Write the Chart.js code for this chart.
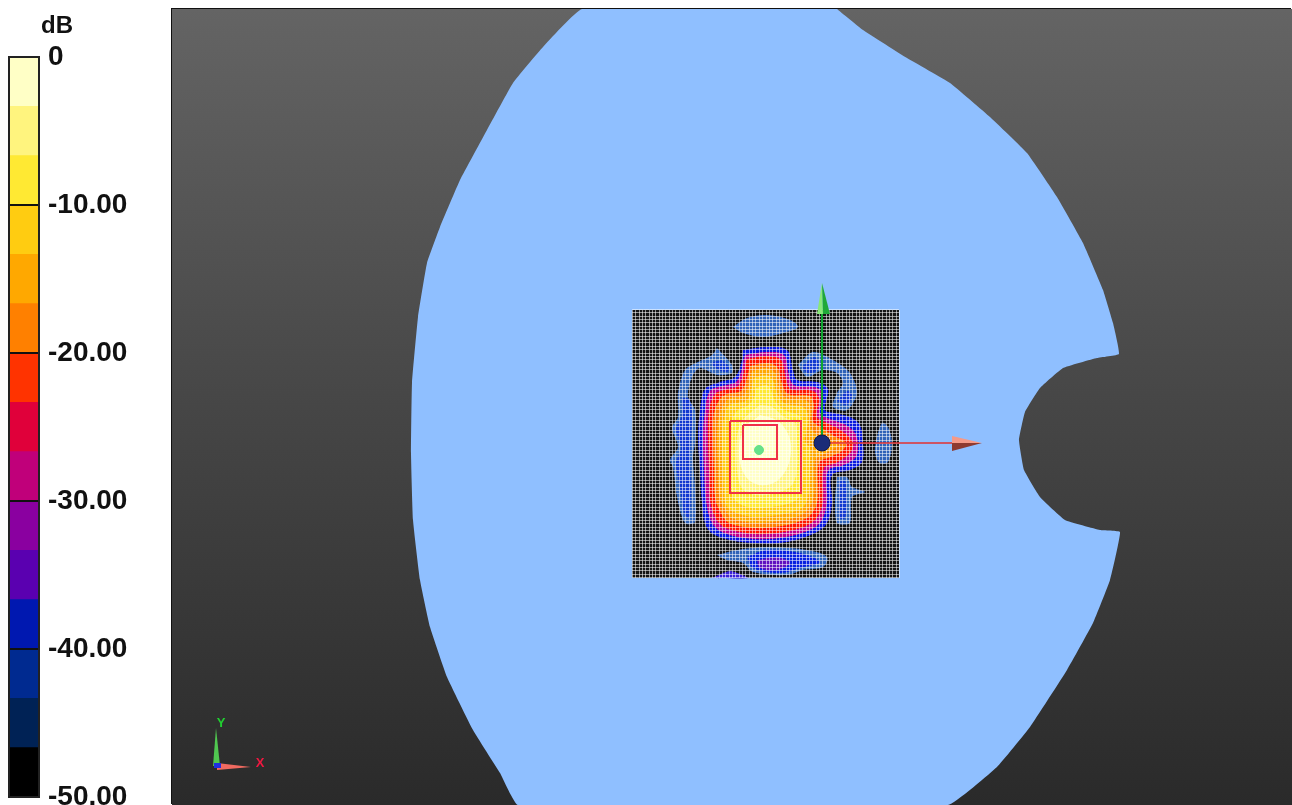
<!DOCTYPE html>
<html>
<head>
<meta charset="utf-8">
<title>Beam pattern</title>
<script src="https://cdn.jsdelivr.net/npm/chart.js@4"></script>
<style>
  html, body { margin: 0; background: #fff; overflow: hidden; }
  #wrap { position: relative; width: 1292px; height: 805px; overflow: hidden; }
  #barBox { position: absolute; left: 0; top: 0; width: 172px; height: 805px; }
  #plotBox { position: absolute; left: 172px; top: 9px; width: 1120px; height: 796px;
    background: linear-gradient(#646464, #464646 50%, #2a2a2a); box-shadow: -1px -1px 0 #111; }
  #unit { position: absolute; left: 41px; top: 11px; font: bold 24px "Liberation Sans", sans-serif; color: #111; }
</style>
</head>
<body>
<div id="wrap">
  <div id="barBox"><canvas id="bar" width="172" height="805"></canvas></div>
  <div id="unit">dB</div>
  <div id="plotBox"><canvas id="plot" width="1120" height="796"></canvas></div>
</div>
<script>
// colour bar
const bandLabels = ["0", "-3.3", "-6.7", "-10", "-13.3", "-16.7", "-20", "-23.3", "-26.7", "-30", "-33.3", "-36.7", "-40", "-43.3", "-46.7"];
const bandColors = ["#FFFFC6", "#FFF47E", "#FFE933", "#FFCC11", "#FFA800", "#FF8000", "#FF3300", "#E0003A", "#C0007A", "#8A00A0", "#5A00B0", "#0018B0", "#002A90", "#002255", "#000000"];
const bandValues = [1, 1, 1, 1, 1, 1, 1, 1, 1, 1, 1, 1, 1, 1, 1];
const dbTicks = [0, -10, -20, -30, -40, -50];

// model outline, one unit per screen pixel, origin at the blue ball
const modelOutline = [[15,434],[41,413],[85,385],[128,360],[168,326],[205,290],[235,246],[261,200],[281,153],[291,120],[297,89],[275,85],[241,75],[218,55],[203,31],[197,3],[202,-27],[218,-54],[243,-77],[278,-87],[298,-89],[288,-137],[271,-180],[245,-227],[208,-284],[175,-324],[126,-362],[-304,-362],[-322,-330],[-349,-287],[-375,-234],[-392,-184],[-402,-137],[-409,-77],[-411,-10],[-410,60],[-404,126],[-395,180],[-382,216],[-362,263],[-335,313],[-309,360],[-279,396],[-240,434]];
const meshCorners = [[-190,133],[77,133],[77,-135],[-190,-135]];

// side lobes
const lobeTop = [[-89,116],[-75,125],[-55,128],[-32,123],[-24,116],[-39,110],[-59,106],[-79,110]];
const lobeLeft = [[-105,95],[-90,78],[-90,70],[-105,68],[-122,75],[-130,66],[-134,46],[-127,33],[-127,0],[-129,-14],[-127,-44],[-127,-79],[-137,-80],[-145,-54],[-149,-24],[-152,-17],[-144,-4],[-150,15],[-144,26],[-144,50],[-137,73],[-124,81],[-110,88]];
const lobeLeftCoreA = [[-100,83],[-93,76],[-95,71],[-105,74],[-110,80]];
const lobeLeftCoreB = [[-140,45],[-133,44],[-130,30],[-131,5],[-132,-15],[-131,-45],[-133,-75],[-138,-70],[-142,-45],[-146,-20],[-141,-5],[-146,14],[-140,28]];
const lobeUpperRight = [[-24,78],[-9,91],[11,83],[28,70],[35,50],[25,33],[11,36],[15,50],[21,60],[15,70],[1,73],[-15,66]];
const lobeUpperRightCoreA = [[-20,76],[-8,86],[-3,80],[-6,72],[-15,70]];
const lobeUpperRightCoreB = [[15,42],[25,52],[30,48],[25,38]];
const lobeRight = [[54,3],[60,20],[66,16],[70,0],[66,-19],[58,-20],[53,-10]];
const lobeLowerRight = [[15,-34],[25,-34],[30,-44],[43,-49],[30,-54],[28,-80],[15,-80],[13,-57]];
const lobeLowerRightCore = [[17,-38],[23,-38],[25,-55],[23,-75],[18,-75],[17,-55]];
const lobeBottom = [[-105,-112],[-85,-107],[-55,-104],[-15,-107],[5,-114],[1,-124],[-19,-127],[-35,-132],[-69,-129],[-79,-120],[-95,-117]];
const lobeBottomCore = [[-75,-114],[-55,-107],[-22,-110],[-2,-119],[-22,-125],[-42,-130],[-69,-125]];
const lobeBottomPeak = [[-65,-117],[-45,-114],[-32,-120],[-45,-127],[-62,-125]];
const lobeEdge = [[-110,-135],[-92,-128],[-74,-135]];

// main beam contours, outermost first
const contourBlue = [[-79,93],[-55,96],[-35,93],[-29,73],[-25,63],[-5,61],[6,54],[3,33],[12,30],[28,26],[38,18],[41,0],[40,-19],[28,-27],[10,-32],[10,-60],[5,-80],[-7,-90],[-35,-99],[-69,-100],[-100,-95],[-115,-85],[-120,-60],[-122,-27],[-124,6],[-122,33],[-117,54],[-102,61],[-87,66],[-80,83]];
const contourMagenta = [[-77,88],[-55,91],[-38,88],[-33,68],[-28,58],[-7,56],[1,49],[-2,30],[8,24],[24,18],[33,10],[36,0],[34,-14],[22,-22],[6,-28],[5,-60],[0,-77],[-10,-86],[-36,-94],[-68,-96],[-98,-90],[-110,-80],[-116,-58],[-118,-27],[-119,6],[-117,33],[-112,52],[-100,57],[-85,62]];
const contourRed = [[-75,84],[-55,87],[-41,83],[-36,64],[-31,54],[-9,52],[-3,44],[-5,26],[5,20],[20,12],[31,0],[28,-10],[14,-20],[2,-25],[1,-58],[-4,-73],[-14,-82],[-38,-89],[-68,-91],[-96,-85],[-106,-76],[-112,-57],[-113,-27],[-114,6],[-113,33],[-107,49],[-98,53],[-83,58]];
const contourOrange = [[-72,77],[-55,80],[-45,76],[-40,60],[-34,49],[-12,47],[-8,38],[-9,22],[0,15],[12,7],[24,0],[20,-8],[8,-14],[-3,-20],[-4,-55],[-9,-69],[-19,-77],[-40,-83],[-68,-85],[-93,-80],[-101,-70],[-107,-55],[-108,-27],[-109,6],[-108,30],[-102,44],[-95,49],[-80,53]];
const contourAmber = [[-70,72],[-56,75],[-47,70],[-43,56],[-36,45],[-15,42],[-11,32],[-12,18],[-5,8],[6,3],[16,-2],[8,-8],[-2,-13],[-7,-17],[-8,-52],[-13,-65],[-23,-73],[-42,-78],[-68,-80],[-90,-75],[-98,-65],[-103,-52],[-104,-27],[-105,6],[-103,28],[-97,40],[-92,45],[-78,48]];
const contourGold = [[-68,65],[-56,68],[-49,63],[-46,52],[-38,40],[-19,36],[-14,28],[-15,14],[-17,2],[-12,-5],[-12,-20],[-13,-48],[-17,-62],[-26,-68],[-44,-72],[-68,-74],[-88,-69],[-96,-62],[-98,-50],[-99,-27],[-100,6],[-98,25],[-94,37],[-86,40],[-75,43]];
const contourYellow = [[-66,55],[-56,58],[-51,53],[-47,42],[-38,33],[-24,28],[-19,20],[-20,0],[-19,-25],[-21,-50],[-27,-58],[-44,-63],[-68,-65],[-84,-60],[-90,-50],[-92,-27],[-93,6],[-91,20],[-85,32],[-75,37],[-68,45]];
const contourLight = [[-62,38],[-50,36],[-38,26],[-27,20],[-25,0],[-25,-25],[-30,-42],[-46,-50],[-66,-52],[-80,-45],[-85,-27],[-85,6],[-80,22],[-72,30]];
const contourPale = [[-62,28],[-44,22],[-32,4],[-33,-20],[-45,-38],[-62,-42],[-76,-34],[-83,-12],[-78,14]];

// overlays
const outerPort = [[-92,22],[-21,22],[-21,-50],[-92,-50],[-92,22]];
const innerPort = [[-79,18],[-45,18],[-45,-16],[-79,-16],[-79,18]];
const focusPoint = [[-63,-7]];
const ballPoint = [[0,0]];
const axisX = [[0,0],[132,0]];
const axisY = [[0,0],[0,130]];
const coneXLight = [[130,7],[160,0],[130,0]];
const coneXDark = [[130,-8],[160,0],[130,0]];
const coneYLight = [[-5,129],[0,160],[1,129]];
const coneYDark = [[8,129],[0,160],[1,129]];
const triadY = [[-609,-323],[-602,-323],[-606,-285]];
const triadX = [[-605,-320],[-605,-327],[-571,-324]];
const triadZ = [[-608,-320],[-601,-320],[-601,-325],[-608,-325]];
const meshCells = 80;

const xy = (pts) => pts.map((p) => ({ x: p[0], y: p[1] }));

function area(label, pts, color, tension = 0.35) {
  return {
    label,
    data: xy(pts.concat([pts[0]])),
    showLine: true,
    fill: "shape",
    backgroundColor: color,
    borderColor: color,
    borderWidth: 0,
    pointRadius: 0,
    tension,
  };
}

function stroke(label, pts, color, width) {
  return { label, data: xy(pts), showLine: true, borderColor: color, borderWidth: width, pointRadius: 0, tension: 0 };
}

function dot(label, pts, color, radius, edge) {
  return { label, data: xy(pts), showLine: false, pointRadius: radius, backgroundColor: color, borderColor: edge, borderWidth: 1 };
}

// mesh lines share one dataset, NaN breaks the line between them.
// snapped to whole units + .5 so they stay 1px sharp
function meshLines() {
  const [[x0, y0], [x1], [, y1]] = meshCorners;
  const out = [];
  for (let i = 0; i <= meshCells; i++) {
    const x = Math.round(x0 + ((x1 - x0) * i) / meshCells) + 0.5;
    const y = Math.round(y0 + ((y1 - y0) * i) / meshCells) + 0.5;
    out.push({ x, y: y0 }, { x, y: y1 }, { x: NaN, y: NaN });
    out.push({ x: x0, y }, { x: x1, y }, { x: NaN, y: NaN });
  }
  return out;
}

const layers = [
  area("model", modelOutline, "#8FBFFF", 0.1),
  area("mesh base", meshCorners, "#141414", 0),
  area("lobe top", lobeTop, "#2F62B8"),
  area("lobe left", lobeLeft, "#2F62B8", 0.3),
  area("lobe left core a", lobeLeftCoreA, "#1238D0"),
  area("lobe left core b", lobeLeftCoreB, "#1238D0", 0.3),
  area("lobe upper right", lobeUpperRight, "#2F62B8", 0.3),
  area("lobe upper right core a", lobeUpperRightCoreA, "#1238D0"),
  area("lobe upper right core b", lobeUpperRightCoreB, "#1238D0"),
  area("lobe right", lobeRight, "#2F62B8"),
  area("lobe lower right", lobeLowerRight, "#2F62B8", 0.25),
  area("lobe lower right core", lobeLowerRightCore, "#1238D0"),
  area("lobe bottom", lobeBottom, "#2F62B8"),
  area("lobe bottom core", lobeBottomCore, "#0820E0"),
  area("lobe bottom peak", lobeBottomPeak, "#6010C0"),
  area("lobe edge", lobeEdge, "#3A20D8", 0.2),
  area("-40 dB", contourBlue, "#0A18E0"),
  area("-32 dB", contourMagenta, "#C0008C"),
  area("-24 dB", contourRed, "#FF1800"),
  area("-18 dB", contourOrange, "#FF8000"),
  area("-14 dB", contourAmber, "#FFA800"),
  area("-11 dB", contourGold, "#FFCC11"),
  area("-8 dB", contourYellow, "#FFE933"),
  area("-5 dB", contourLight, "#FFF47E"),
  area("-2 dB", contourPale, "#FFFFC6"),
  // tiny tension keeps chart.js off its fast path, which truncates x
  { label: "mesh", data: meshLines(), showLine: true, borderColor: "rgba(255,255,255,0.55)", borderWidth: 1, pointRadius: 0, tension: 0.0001 },
  stroke("outer port", outerPort, "#F03048", 2),
  stroke("inner port", innerPort, "#F03048", 2),
  dot("focus", focusPoint, "#66E08A", 4.5, "#66E08A"),
  stroke("axis x", axisX, "#E23030", 1.5),
  stroke("axis y", axisY, "#10A830", 2),
  area("cone x light", coneXLight, "#F59A88", 0),
  area("cone x dark", coneXDark, "#8E3A30", 0),
  area("cone y light", coneYLight, "#88E878", 0),
  area("cone y dark", coneYDark, "#20A838", 0),
  dot("ball", ballPoint, "#1A2C78", 8, "#101C50"),
  area("triad y", triadY, "#50C850", 0),
  area("triad x", triadX, "#F06A60", 0),
  area("triad z", triadZ, "#2030E0", 0),
];
// later layers go on top
layers.forEach((d, i) => { d.order = -i; });

const triadLabels = {
  id: "triadLabels",
  afterDatasetsDraw(chart) {
    const { ctx, scales } = chart;
    ctx.save();
    ctx.font = "bold 13px 'Liberation Sans', sans-serif";
    ctx.textAlign = "center";
    ctx.textBaseline = "middle";
    ctx.fillStyle = "#20D030";
    ctx.fillText("Y", scales.x.getPixelForValue(-601), scales.y.getPixelForValue(-280));
    ctx.fillStyle = "#F01840";
    ctx.fillText("X", scales.x.getPixelForValue(-562), scales.y.getPixelForValue(-320));
    ctx.restore();
  },
};

new Chart(document.getElementById("plot"), {
  type: "scatter",
  data: { datasets: layers },
  plugins: [triadLabels],
  options: {
    responsive: false,
    animation: false,
    events: [],
    layout: { padding: 0, autoPadding: false },
    plugins: { legend: { display: false }, tooltip: { enabled: false } },
    scales: {
      x: { type: "linear", min: -650, max: 470, display: false },
      y: { type: "linear", min: -362, max: 434, display: false },
    },
  },
});

const barFrame = {
  id: "barFrame",
  afterDraw(chart) {
    const { ctx, chartArea: a } = chart;
    ctx.save();
    ctx.strokeStyle = "#222";
    ctx.lineWidth = 2;
    ctx.strokeRect(a.left, a.top, a.right - a.left, a.bottom - a.top);
    ctx.restore();
  },
};

new Chart(document.getElementById("bar"), {
  type: "bar",
  data: {
    labels: bandLabels,
    datasets: [{ label: "dB", data: bandValues, backgroundColor: bandColors, barPercentage: 1, categoryPercentage: 1 }],
  },
  plugins: [barFrame],
  options: {
    indexAxis: "y",
    responsive: false,
    animation: false,
    events: [],
    layout: { padding: { left: 9, top: 57, bottom: 8, right: 0 }, autoPadding: false },
    plugins: { legend: { display: false }, tooltip: { enabled: false } },
    scales: {
      x: { min: 0, max: 1, display: false },
      y: { display: false },
      db: {
        type: "linear",
        axis: "y",
        position: "right",
        offset: false,
        min: -50,
        max: 0,
        afterFit(scale) {
          scale.width = 133;
          scale.paddingTop = 0;
          scale.paddingBottom = 0;
        },
        afterBuildTicks(scale) { scale.ticks = dbTicks.map((value) => ({ value })); },
        border: { display: false },
        grid: { offset: false, color: "#111", lineWidth: 2, drawTicks: false, z: 1 },
        ticks: {
          padding: 9,
          autoSkip: false,
          color: "#111",
          font: { family: "'Liberation Sans', sans-serif", size: 28, weight: "bold" },
          callback: (v) => (v === 0 ? "0" : v.toFixed(2)),
        },
      },
    },
  },
});
</script>
</body>
</html>
